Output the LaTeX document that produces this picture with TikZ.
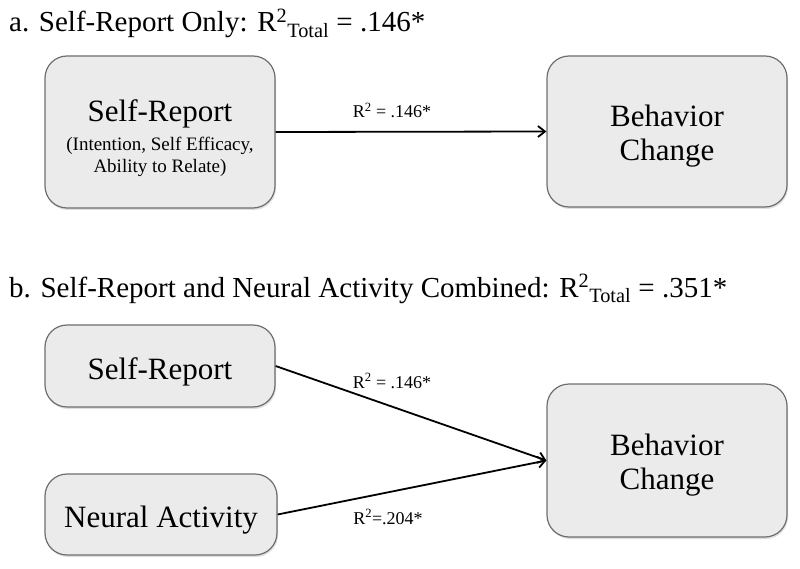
\documentclass[tikz,border=0pt]{standalone}
\usepackage{fontspec}
\setmainfont{Liberation Serif}
\usetikzlibrary{arrows.meta,shadows}
\definecolor{boxfill}{HTML}{EBEBEB}
\definecolor{boxdraw}{HTML}{6E6E6E}
\tikzset{
  rbox/.style={draw=boxdraw, line width=1.2pt, fill=boxfill, rounded corners=22pt,
    inner sep=0pt,
    drop shadow={opacity=0.25, shadow xshift=1pt, shadow yshift=-2pt}},
  txt/.style={anchor=base, inner sep=0pt, font=\fontsize{31}{34}\selectfont},
  conn/.style={line width=1.8pt, -{Straight Barb[length=7pt,width=11pt,line width=1.8pt]}},
  elabel/.style={anchor=base, inner sep=0pt, font=\fontsize{18}{20}\selectfont},
  title/.style={font=\fontsize{29}{32}\selectfont, anchor=base west, inner sep=0pt}
}
\begin{document}
\begin{tikzpicture}[x=1pt,y=-1pt]
\useasboundingbox (0,0) rectangle (800,569);
% titles
\node[title] (ta) at (9,32) {a. Self-Report Only: R\textsuperscript{2}\textsubscript{Total} = .146*};
\node[title] (tb) at (9,297) {b. Self-Report and Neural Activity Combined: R\textsuperscript{2}\textsubscript{Total} = .351*};
% part a
\node[rbox, minimum width=230pt, minimum height=152pt] (a1) at (160,132) {};
\node[txt, font=\fontsize{19}{22}\selectfont] (a1t) at (160,122)
  {\begin{tabular}[t]{@{}c@{}}{\fontsize{31}{34}\selectfont Self-Report}\\[7pt]
   (Intention, Self Efficacy,\\ Ability to Relate)\end{tabular}};
\node[rbox, minimum width=240pt, minimum height=151pt] (a2) at (667,131.5) {};
\node[txt] (a2t) at (667,127) {\begin{tabular}[t]{@{}c@{}}Behavior\\Change\end{tabular}};
\draw[conn] (a1.east) -- (a2.west);
\node[elabel] (la) at (392,118) {R\textsuperscript{2} = .146*};
% part b
\node[rbox, minimum width=230pt, minimum height=82pt] (b1) at (160,366) {};
\node[txt] (b1t) at (160,379) {Self-Report};
\node[rbox, minimum width=232pt, minimum height=81pt] (b2) at (161,514.5) {};
\node[txt] (b2t) at (161,527) {Neural Activity};
\node[rbox, minimum width=240pt, minimum height=153pt] (b3) at (667,460.5) {};
\node[txt] (b3t) at (667,455) {\begin{tabular}[t]{@{}c@{}}Behavior\\Change\end{tabular}};
\draw[conn] (b1.east) -- (b3.west);
\draw[conn] (b2.east) -- (b3.west);
\node[elabel] (lb1) at (392,388) {R\textsuperscript{2} = .146*};
\node[elabel] (lb2) at (388,524) {R\textsuperscript{2}=.204*};
\end{tikzpicture}
\end{document}
